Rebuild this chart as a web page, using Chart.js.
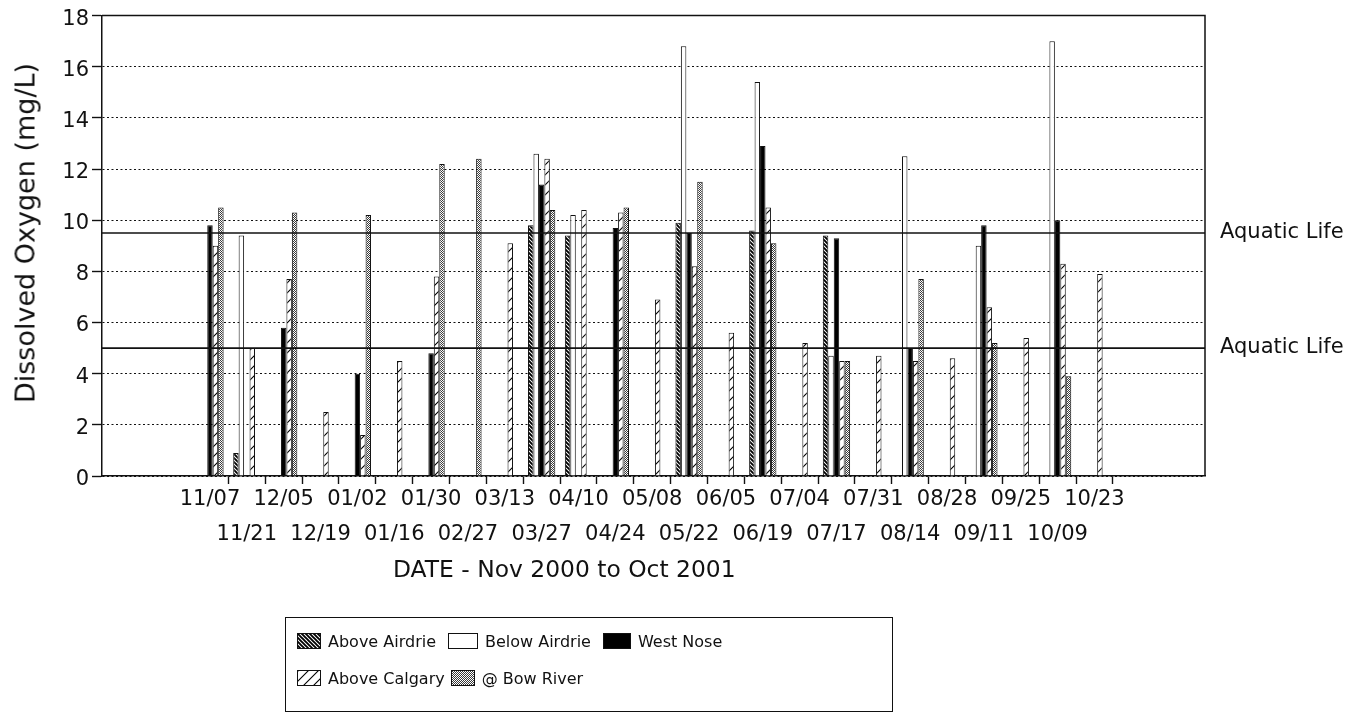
<!DOCTYPE html>
<html>
<head>
<meta charset="utf-8">
<title>Dissolved Oxygen, Nov 2000 to Oct 2001</title>
<script src="https://cdn.jsdelivr.net/npm/chart.js@4.4.1/dist/chart.umd.min.js"></script>
<style>
  html, body { margin: 0; padding: 0; background: #fff; }
  #wrap { position: relative; width: 1371px; height: 713px; overflow: hidden;
          font-family: 'DejaVu Sans', sans-serif; color: #111; }
  #c { position: absolute; left: 0; top: 0; }
  #ytitle { position: absolute; left: 24.5px; top: 232.5px; font-size: 27px; line-height: 1;
            white-space: nowrap; transform: translate(-50%, -50%) rotate(-90deg); }
  #xtitle { position: absolute; left: 393px; top: 558px; font-size: 23.4px; line-height: 1; white-space: nowrap; }
  #legend { position: absolute; left: 285px; top: 617px; width: 608px; height: 95px;
            border: 1.5px solid #111; box-sizing: border-box; font-size: 16px; }
  .row { position: absolute; left: 11px; display: flex; align-items: center; height: 18px; white-space: nowrap; }
  .item { display: flex; align-items: center; margin-right: 12px; }
  .item canvas { border: 1px solid #111; margin-right: 7px; display: block; }
</style>
</head>
<body>
<div id="wrap">
  <canvas id="c" width="1371" height="713"></canvas>
  <div id="ytitle">Dissolved Oxygen (mg/L)</div>
  <div id="xtitle">DATE - Nov 2000 to Oct 2001</div>
  <div id="legend">
    <div class="row" style="top:14px" id="row1"></div>
    <div class="row" style="top:51px" id="row2"></div>
  </div>
</div>
<script>
// Sampling dates (Nov 2000 - Oct 2001)
const dates = ['11/07','11/21','12/05','12/19','01/02','01/16','01/30','02/27','03/13','03/27',
               '04/10','04/24','05/08','05/22','06/05','06/19','07/04','07/17','07/31','08/14',
               '08/28','09/11','09/25','10/09','10/23'];

// Dissolved oxygen, mg/L (null = no sample)
const aboveAirdrie = [null, 0.9, null, null, null, null, null, null, null, 9.8,
                      9.4, null, null, 9.9, null, 9.6, null, 9.4, null, null,
                      null, null, null, null, null];
const belowAirdrie = [null, 9.4, null, null, null, null, null, null, null, 12.6,
                      10.2, null, null, 16.8, null, 15.4, null, 4.7, null, 12.5,
                      null, 9.0, null, 17.0, null];
const westNose     = [9.8, null, 5.8, null, 4.0, null, 4.8, null, null, 11.4,
                      null, 9.7, null, 9.5, null, 12.9, null, 9.3, null, 5.0,
                      null, 9.8, null, 10.0, null];
const aboveCalgary = [9.0, 5.0, 7.7, 2.5, 1.6, 4.5, 7.8, null, 9.1, 12.4,
                      10.4, 10.3, 6.9, 8.2, 5.6, 10.5, 5.2, 4.5, 4.7, 4.5,
                      4.6, 6.6, 5.4, 8.3, 7.9];
const bowRiver     = [10.5, null, 10.3, null, 10.2, null, 12.2, 12.4, null, 10.4,
                      null, 10.5, null, 11.5, null, 9.1, null, 4.5, null, 7.7,
                      null, 5.2, null, 3.9, null];

// Aquatic life guideline levels, mg/L
const aquaticLife = [9.5, 5.0];
const aquaticLabel = 'Aquatic Life';

// Y axis ticks
const yTickValues = [0, 2, 4, 6, 8, 10, 12, 14, 16, 18];

const INK = '#111';
const FONT = 'DejaVu Sans';
const X_MIN = -2.93, X_MAX = 27.0;

// ---- fill patterns ----
function tile(size, draw) {
  const cv = document.createElement('canvas');
  cv.width = cv.height = size;
  const g = cv.getContext('2d');
  g.fillStyle = '#fff';
  g.fillRect(0, 0, size, size);
  draw(g, size);
  return g.createPattern(cv, 'repeat');
}
function densePattern() {            // tight "\\\" hatch
  return tile(4, (g, s) => {
    g.strokeStyle = '#000'; g.lineWidth = 1.9;
    g.beginPath();
    g.moveTo(-1, -1); g.lineTo(s + 1, s + 1);
    g.moveTo(-1, s - 1); g.lineTo(1, s + 1);
    g.moveTo(s - 1, -1); g.lineTo(s + 1, 1);
    g.stroke();
  });
}
function sparsePattern() {           // open "//" hatch
  return tile(10, (g, s) => {
    g.strokeStyle = '#000'; g.lineWidth = 1.1;
    g.beginPath();
    g.moveTo(-1, s + 1); g.lineTo(s + 1, -1);
    g.moveTo(-1, 1); g.lineTo(1, -1);
    g.moveTo(s - 1, s + 1); g.lineTo(s + 1, s - 1);
    g.stroke();
  });
}
function dotPattern() {              // fine stipple
  return tile(4, (g) => {
    g.fillStyle = '#3a3a3a';
    [[0,0],[2,0],[1,1],[3,1],[0,2],[2,2],[1,3],[3,3]].forEach(([x, y]) => g.fillRect(x, y, 1, 1));
  });
}

const series = [
  { label: 'Above Airdrie', values: aboveAirdrie, fill: densePattern },
  { label: 'Below Airdrie', values: belowAirdrie, fill: () => '#fff' },
  { label: 'West Nose',     values: westNose,     fill: () => '#000' },
  { label: 'Above Calgary', values: aboveCalgary, fill: sparsePattern },
  { label: '@ Bow River',   values: bowRiver,     fill: dotPattern }
];

const barSets = series.map(s => ({
  type: 'bar',
  label: s.label,
  data: s.values.map((v, i) => ({ x: i, y: v })),
  backgroundColor: s.fill(),
  borderColor: INK,
  borderWidth: 1,
  order: 2
}));

const limitSets = aquaticLife.map(v => ({
  type: 'line',
  label: aquaticLabel,
  data: [{ x: X_MIN, y: v }, { x: X_MAX, y: v }],
  borderColor: INK,
  borderWidth: 1.7,
  pointRadius: 0,
  fill: false,
  order: 0
}));

// top and right edges of the plot frame
const framePlugin = {
  id: 'frame',
  beforeDatasetsDraw(chart) {
    const { ctx, chartArea: a } = chart;
    ctx.save();
    ctx.strokeStyle = INK;
    ctx.lineWidth = 1.5;
    ctx.beginPath();
    ctx.moveTo(a.left, a.top);
    ctx.lineTo(a.right, a.top);
    ctx.lineTo(a.right, a.bottom);
    ctx.stroke();
    ctx.restore();
  }
};

// guideline captions to the right of the plot
const limitLabelPlugin = {
  id: 'limitLabels',
  afterDatasetsDraw(chart) {
    const { ctx, chartArea: a, scales: { y } } = chart;
    ctx.save();
    ctx.fillStyle = INK;
    ctx.font = '21px "' + FONT + '"';
    ctx.textAlign = 'left';
    ctx.textBaseline = 'alphabetic';
    aquaticLife.forEach(v => ctx.fillText(aquaticLabel, a.right + 15, y.getPixelForValue(v) + 4.5));
    ctx.restore();
  }
};

new Chart(document.getElementById('c'), {
  data: { datasets: [...limitSets, ...barSets] },
  plugins: [framePlugin, limitLabelPlugin],
  options: {
    responsive: false,
    animation: false,
    devicePixelRatio: 1,
    layout: { padding: { top: 15, right: 166, bottom: 157, left: 0 } },
    plugins: { legend: { display: false }, tooltip: { enabled: false } },
    datasets: { bar: { categoryPercentage: 0.74, barPercentage: 1.0 } },
    scales: {
      x: {
        type: 'linear',
        min: X_MIN,
        max: X_MAX,
        offset: false,
        afterBuildTicks: s => { s.ticks = dates.map((d, i) => ({ value: i })); },
        afterFit: s => { s.height = 80; },
        ticks: {
          autoSkip: false, maxRotation: 0, minRotation: 0, padding: -2, color: INK,
          font: { family: FONT, size: 21, lineHeight: 35 / 21 },
          callback: (v, i) => (i % 2 === 0 ? [dates[i], ''] : ['', dates[i]])
        },
        grid: {
          display: true, drawOnChartArea: false, offset: true, tickLength: 8, tickWidth: 1.4,
          tickColor: c => (c.index === 0 || c.index >= dates.length ? 'rgba(0,0,0,0)' : INK)
        },
        border: { display: true, color: INK, width: 1.5 }
      },
      y: {
        min: yTickValues[0],
        max: yTickValues[yTickValues.length - 1],
        afterBuildTicks: s => { s.ticks = yTickValues.map(v => ({ value: v })); },
        afterFit: s => { s.width = 102; },
        ticks: { padding: 3, labelOffset: 3.5, color: INK, font: { family: FONT, size: 21 } },
        grid: { color: INK, lineWidth: 1, tickLength: 10, tickColor: INK, tickWidth: 1.4 },
        border: { display: true, color: INK, width: 1.5, dash: [2, 2.5] }
      }
    }
  }
});

// legend swatches share the bar fills
function addLegendItem(rowId, s, w, gap) {
  const item = document.createElement('div');
  item.className = 'item';
  if (gap !== undefined) item.style.marginRight = gap + 'px';
  const sw = document.createElement('canvas');
  sw.width = w; sw.height = 14;
  const g = sw.getContext('2d');
  g.fillStyle = s.fill();
  g.fillRect(0, 0, w, 14);
  const txt = document.createElement('span');
  txt.textContent = s.label;
  item.appendChild(sw);
  item.appendChild(txt);
  document.getElementById(rowId).appendChild(item);
}
addLegendItem('row1', series[0], 22, 12);
addLegendItem('row1', series[1], 28, 12);
addLegendItem('row1', series[2], 26);
addLegendItem('row2', series[3], 22, 6);
addLegendItem('row2', series[4], 22);
</script>
</body>
</html>
